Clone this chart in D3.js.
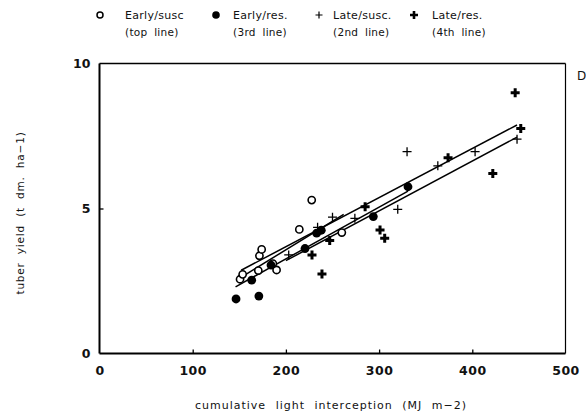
<!DOCTYPE html>
<html><head><meta charset="utf-8">
<script src="https://cdn.jsdelivr.net/npm/d3@7"></script>
<style>body{margin:0;background:#fff}svg{display:block}text{font-family:"DejaVu Sans",Arial,sans-serif;fill:#111}</style>
</head><body><svg id="c" width="586" height="419"></svg>
<script>
const xTicks = [0,100,200,300,400,500];
const yTicks = [0,5,10];
const earlySusc = [[150.8,2.56],[153.6,2.73],[170.4,2.86],[171.6,3.37],[174,3.59],[190,2.88],[186,3.1],[214.4,4.28],[227.7,5.29],[260,4.17]];
const earlyRes = [[146.5,1.88],[163.3,2.53],[171,1.98],[184,3.05],[220.5,3.62],[233,4.15],[238,4.25],[293.8,4.72],[331,5.75]];
const lateSusc = [[203,3.4],[234,4.35],[250,4.7],[274,4.66],[320,4.97],[330,6.96],[363,6.47],[403,6.96],[448,7.39]];
const lateRes = [[228,3.4],[238.7,2.74],[247,3.9],[285,5.06],[301,4.26],[306,3.97],[374,6.75],[422,6.21],[446,8.99],[452,7.76]];
// regression lines: [x1,y1,x2,y2]
const lineTop = [148,2.55,262,4.8];
const line2nd = [152,2.87,448,7.88];
const line3rd = [146,2.3,331,5.6];
const line4th = [200,3.2,448,7.46];
const legendLabels = [["Early/susc","(top line)"],["Early/res.","(3rd line)"],["Late/susc.","(2nd line)"],["Late/res.","(4th line)"]];

const svg = d3.select("#c");
const x = d3.scaleLinear().domain([0,500]).range([99.5,565.5]);
const y = d3.scaleLinear().domain([0,10]).range([353.5,63.5]);

// frame
const g = svg.append("g");
g.append("line").attr("x1",x(0)).attr("x2",x(500)).attr("y1",y(0)).attr("y2",y(0)).attr("stroke","#000").attr("stroke-width",2);
g.append("line").attr("x1",x(0)).attr("x2",x(0)).attr("y1",y(0)).attr("y2",y(10)).attr("stroke","#000").attr("stroke-width",2);
g.append("line").attr("x1",x(0)).attr("x2",x(500)).attr("y1",y(10)).attr("y2",y(10)).attr("stroke","#000").attr("stroke-width",1.6);
g.append("line").attr("x1",x(500)).attr("x2",x(500)).attr("y1",y(0)).attr("y2",y(10)).attr("stroke","#000").attr("stroke-width",1.2);

const xAxis = d3.axisBottom(x).tickValues(xTicks).tickSize(-4).tickPadding(13).tickFormat(d3.format("d"));
const xa = svg.append("g").attr("transform",`translate(0,${y(0)})`).call(xAxis);
xa.select(".domain").remove();
xa.selectAll(".tick line").attr("stroke","#000").attr("stroke-width",1.3).filter(d=>d===0||d===500).remove();
xa.selectAll("text").attr("font-size",12.5).attr("font-weight","bold").attr("letter-spacing",0.5).attr("fill","#111");

const yAxis = d3.axisLeft(y).tickValues(yTicks).tickSize(-4).tickPadding(9).tickFormat(d3.format("d"));
const ya = svg.append("g").attr("transform",`translate(${x(0)},0)`).call(yAxis);
ya.select(".domain").remove();
ya.selectAll(".tick line").attr("stroke","#000").attr("stroke-width",1.3).filter(d=>d===0||d===10).remove();
ya.selectAll("text").attr("font-size",12.5).attr("font-weight","bold").attr("fill","#111");

// lines
[lineTop,line2nd,line3rd,line4th].forEach(l=>{
  svg.append("line").attr("x1",x(l[0])).attr("y1",y(l[1])).attr("x2",x(l[2])).attr("y2",y(l[3])).attr("stroke","#000").attr("stroke-width",1.5);
});

function plus(sel, size, sw){
  sel.append("path").attr("d",`M${-size},0H${size}M0,${-size}V${size}`).attr("stroke","#000").attr("stroke-width",sw).attr("fill","none");
}
svg.append("g").selectAll("circle").data(earlySusc).join("circle")
  .attr("cx",d=>x(d[0])).attr("cy",d=>y(d[1])).attr("r",3.6).attr("fill","#fff").attr("stroke","#000").attr("stroke-width",1.6);
svg.append("g").selectAll("circle").data(earlyRes).join("circle")
  .attr("cx",d=>x(d[0])).attr("cy",d=>y(d[1])).attr("r",4.4).attr("fill","#000");
svg.append("g").selectAll("g").data(lateSusc).join("g")
  .attr("transform",d=>`translate(${x(d[0])},${y(d[1])})`).each(function(){plus(d3.select(this),4.5,1.3);});
svg.append("g").selectAll("g").data(lateRes).join("g")
  .attr("transform",d=>`translate(${x(d[0])},${y(d[1])})`).each(function(){plus(d3.select(this),4.5,3);});

// legend
const lmark = [100,216,319,414];
const ltext = [125,233,333,432];
legendLabels.forEach((lab,i)=>{
  const gg = svg.append("g").attr("transform",`translate(${lmark[i]},15)`);
  if(i===0) gg.append("circle").attr("r",3).attr("fill","#fff").attr("stroke","#000").attr("stroke-width",1.5);
  if(i===1) gg.append("circle").attr("r",3.8).attr("fill","#000");
  if(i===2) plus(gg,3.5,1.2);
  if(i===3) plus(gg,4,2.6);
  svg.append("text").attr("x",ltext[i]).attr("y",19).attr("font-size",11).attr("letter-spacing",0.3).text(lab[0]);
  svg.append("text").attr("x",ltext[i]).attr("y",36).attr("font-size",10.5).attr("letter-spacing",0.3).attr("word-spacing",3).text(lab[1]);
});

svg.append("text").attr("x",577).attr("y",80).attr("font-size",12).text("D");
svg.append("text").attr("x",331).attr("y",409).attr("text-anchor","middle").attr("font-size",11).attr("letter-spacing",1).attr("word-spacing",5).text("cumulative light interception (MJ m\u22122)");
svg.append("text").attr("transform","translate(24,213) rotate(-90)").attr("text-anchor","middle").attr("font-size",10.5).attr("letter-spacing",0.8).attr("word-spacing",4).text("tuber yield (t dm. ha\u22121)");
</script></body></html>
